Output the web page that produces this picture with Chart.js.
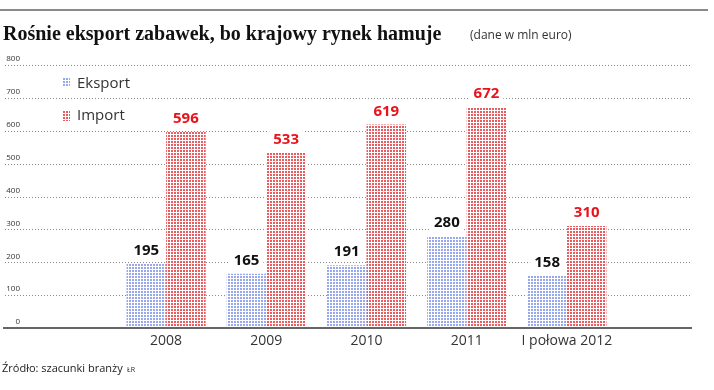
<!DOCTYPE html>
<html>
<head>
<meta charset="utf-8">
<script src="https://cdn.jsdelivr.net/npm/chart.js@4"></script>
<style>
  body { margin: 0; background: #fff; }
  #wrap { position: relative; width: 714px; height: 390px; }
</style>
</head>
<body>
<div id="wrap"><canvas id="chart" width="714" height="390"></canvas></div>
<script>
// dane
const categories = ['2008', '2009', '2010', '2011', 'I połowa 2012'];
const eksport = [195, 165, 191, 280, 158];
const importy = [596, 533, 619, 672, 310];
const yTicks = [0, 100, 200, 300, 400, 500, 600, 700, 800];

// wzór kropkowany
function makePattern(color) {
  const c = document.createElement('canvas');
  c.width = 3; c.height = 3;
  const g = c.getContext('2d');
  g.fillStyle = '#fff';
  g.fillRect(0, 0, 3, 3);
  g.fillStyle = color;
  g.fillRect(0, 0, 2, 2);
  return g.createPattern(c, 'repeat');
}
const bluePat = makePattern('#97a8ee');
const redPat = makePattern('#ea5c60');

const extras = {
  id: 'extras',
  beforeDatasetsDraw(chart) {
    const ctx = chart.ctx;
    const y = chart.scales.y;
    ctx.save();
    // linia u góry
    ctx.fillStyle = '#8a8a8a';
    ctx.fillRect(0, 9, 708, 2);
    // siatka
    ctx.strokeStyle = '#8a8a8a';
    ctx.lineWidth = 1;
    ctx.setLineDash([1, 2]);
    yTicks.forEach(v => {
      if (v === 0) return;
      const py = Math.round(y.getPixelForValue(v)) + 0.5;
      ctx.beginPath();
      ctx.moveTo(5, py);
      ctx.lineTo(690, py);
      ctx.stroke();
    });
    ctx.setLineDash([]);
    // etykiety osi Y
    ctx.fillStyle = '#333';
    ctx.font = '8px "Open Sans"';
    ctx.textAlign = 'right';
    ctx.textBaseline = 'bottom';
    yTicks.forEach(v => {
      ctx.fillText(String(v), 20, y.getPixelForValue(v) - 2);
    });
    ctx.restore();
  },
  afterDatasetsDraw(chart) {
    const ctx = chart.ctx;
    const y = chart.scales.y;
    ctx.save();
    // oś
    ctx.fillStyle = '#666';
    ctx.fillRect(3, Math.round(y.getPixelForValue(0)) - 1, 689, 2);
    // wartości
    ctx.font = 'bold 15px "Open Sans"';
    ctx.textAlign = 'center';
    ctx.textBaseline = 'middle';
    chart.data.datasets.forEach((ds, i) => {
      chart.getDatasetMeta(i).data.forEach((bar, j) => {
        const t = String(ds.data[j]);
        const w = ctx.measureText(t).width + 8;
        ctx.fillStyle = '#fff';
        ctx.fillRect(bar.x - w / 2, bar.y - 22, w, 18);
        ctx.fillStyle = i === 0 ? '#111' : '#e8141c';
        ctx.fillText(t, bar.x, bar.y - 13);
      });
    });
    // legenda
    ctx.fillStyle = bluePat;
    ctx.fillRect(62, 78, 8, 9);
    ctx.fillStyle = redPat;
    ctx.fillRect(62, 110, 8, 11);
    ctx.fillStyle = '#333';
    ctx.font = '15px "Open Sans"';
    ctx.textAlign = 'left';
    ctx.fillText('Eksport', 77, 84);
    ctx.fillText('Import', 77, 116);
    // tytuł
    ctx.fillStyle = '#111';
    ctx.textBaseline = 'alphabetic';
    ctx.font = 'bold 20px "Liberation Serif"';
    ctx.fillText('Rośnie eksport zabawek, bo krajowy rynek hamuje', 3, 40);
    ctx.fillStyle = '#333';
    ctx.font = '12px "Open Sans"';
    ctx.fillText('(dane w mln euro)', 470, 39);
    // źródło
    ctx.fillStyle = '#222';
    ctx.font = '11px "Open Sans"';
    ctx.fillText('Źródło: szacunki branży', 2, 372);
    ctx.font = '7px "Open Sans"';
    ctx.fillText('ŁR', 127, 372);
    ctx.restore();
  }
};

new Chart(document.getElementById('chart'), {
  type: 'bar',
  data: {
    labels: categories,
    datasets: [
      { label: 'Eksport', data: eksport, backgroundColor: bluePat },
      { label: 'Import', data: importy, backgroundColor: redPat }
    ]
  },
  options: {
    responsive: false,
    devicePixelRatio: 1,
    animation: false,
    layout: { padding: { left: 116, right: 97, top: 65, bottom: 0 } },
    datasets: { bar: { categoryPercentage: 0.79, barPercentage: 1 } },
    plugins: { legend: { display: false }, tooltip: { enabled: false } },
    scales: {
      x: {
        grid: { display: false, drawTicks: false },
        border: { display: false },
        ticks: { color: '#333', font: { size: 14, family: 'Open Sans' }, padding: 5, maxRotation: 0 },
        afterFit: s => { s.height = 62; }
      },
      y: { display: false, min: 0, max: 800 }
    }
  },
  plugins: [extras]
});
</script>
</body>
</html>
